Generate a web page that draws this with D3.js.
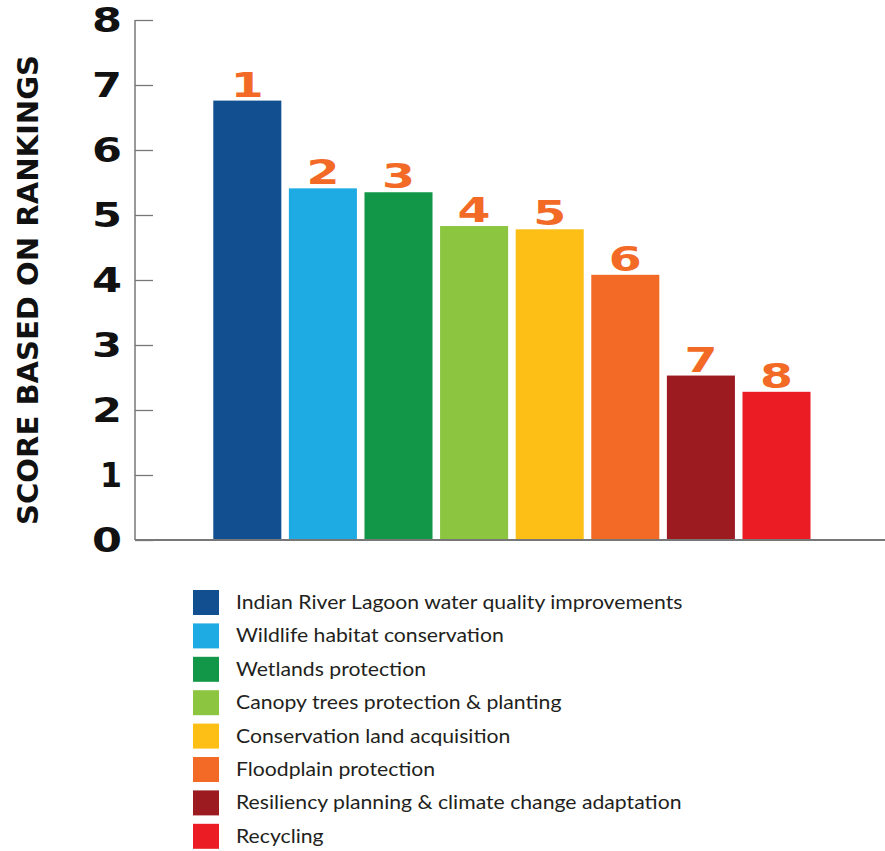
<!DOCTYPE html>
<html><head><meta charset="utf-8">
<script src="https://cdn.jsdelivr.net/npm/d3@7"></script>
<style>body{margin:0;background:#fff;}svg{display:block;}</style>
</head><body>
<svg id="chart" width="885" height="851"></svg>
<script>
const categories = ["Indian River Lagoon water quality improvements","Wildlife habitat conservation","Wetlands protection","Canopy trees protection & planting","Conservation land acquisition","Floodplain protection","Resiliency planning & climate change adaptation","Recycling"];
const ranks = ["1","2","3","4","5","6","7","8"];
const scores = [6.76, 5.41, 5.35, 4.83, 4.78, 4.08, 2.53, 2.28];
const colors = ["#114f90","#1eaae2","#129648","#8cc540","#fdbf15","#f26a25","#9b1b21","#ec1c25"];
const yTicks = [0,1,2,3,4,5,6,7,8];

const svg = d3.select("#chart");
const x = d3.scaleBand().domain(ranks).range([209.5, 814.3]).paddingInner(0.1).paddingOuter(0.05);
const y = d3.scaleLinear().domain([0, 8]).range([540, 20]);
const axisX = 135;

// bars
svg.append("g").selectAll("rect").data(scores).join("rect")
  .attr("x", (d,i) => x(ranks[i]))
  .attr("y", d => y(d))
  .attr("width", x.bandwidth())
  .attr("height", d => y(0) - y(d))
  .attr("fill", (d,i) => colors[i]);

// rank labels
svg.append("g").selectAll("text").data(scores).join("text")
  .attr("x", (d,i) => x(ranks[i]) + x.bandwidth()/2)
  .attr("y", d => y(d) - 4)
  .attr("text-anchor", "middle")
  .attr("font-family", "DejaVu Sans")
  .attr("font-weight", "bold")
  .attr("font-size", 34)
  .attr("fill", "#f26a25")
  .attr("textLength", d => 33)
  .attr("lengthAdjust", "spacingAndGlyphs")
  .text((d,i) => ranks[i]);

// y axis
const yAxis = d3.axisRight(y).tickValues(yTicks).tickSize(18).tickFormat("");
const gy = svg.append("g").attr("transform", `translate(${axisX},0)`).call(yAxis);
gy.select(".domain").remove();
gy.selectAll(".tick line").attr("stroke", "#777").attr("stroke-width", 1.3);
svg.append("line").attr("x1", axisX).attr("x2", axisX).attr("y1", y(8)).attr("y2", y(0))
  .attr("stroke", "#777").attr("stroke-width", 1.5);
svg.append("line").attr("x1", axisX).attr("x2", 885).attr("y1", y(0)).attr("y2", y(0))
  .attr("stroke", "#777").attr("stroke-width", 1.8);

// y tick labels
svg.append("g").selectAll("text").data(yTicks).join("text")
  .attr("x", 122)
  .attr("y", d => y(d) + 12)
  .attr("text-anchor", "end")
  .attr("font-family", "DejaVu Sans")
  .attr("font-weight", "bold")
  .attr("font-size", 33)
  .attr("fill", "#111")
  .attr("textLength", d => d === 1 ? 22 : 30)
  .attr("lengthAdjust", "spacingAndGlyphs")
  .text(d => d);

// y axis title
svg.append("text")
  .attr("transform", "translate(38,290) rotate(-90)")
  .attr("text-anchor", "middle")
  .attr("font-family", "DejaVu Sans")
  .attr("font-weight", "bold")
  .attr("font-size", 28)
  .attr("fill", "#111")
  .attr("textLength", 470)
  .attr("lengthAdjust", "spacingAndGlyphs")
  .text("SCORE BASED ON RANKINGS");

// legend
const leg = svg.append("g");
const items = leg.selectAll("g").data(categories).join("g")
  .attr("transform", (d,i) => `translate(193,${590 + i*33.4})`);
items.append("rect").attr("width", 26).attr("height", 25).attr("fill", (d,i) => colors[i]);
items.append("text")
  .attr("x", 43).attr("y", 19)
  .attr("font-family", "Lato")
  .attr("font-size", 19.5)
  .attr("fill", "#231f20")
  .attr("transform", "translate(43,0) scale(1.087,1) translate(-43,0)")
  .text(d => d);
</script>
</body></html>
